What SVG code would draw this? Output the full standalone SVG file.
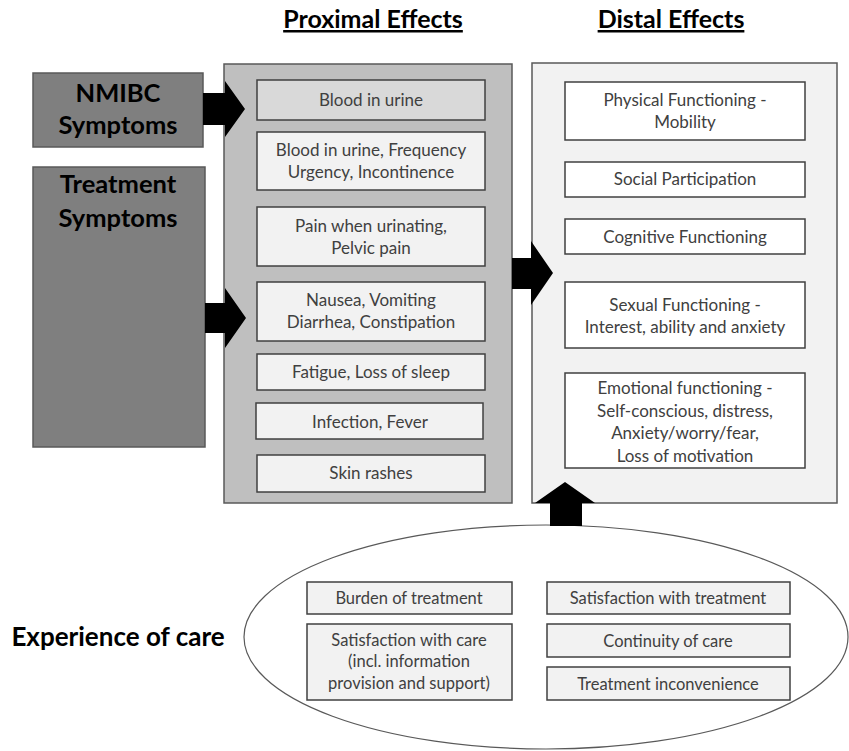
<svg xmlns="http://www.w3.org/2000/svg" width="849" height="751" viewBox="0 0 849 751">
<style>
text{font-family:Lato,"Open Sans","Liberation Sans",sans-serif;text-anchor:middle;}
.hd{font-size:25px;font-weight:bold;fill:#000;text-decoration:underline;}
.src{font-size:25.5px;font-weight:bold;fill:#000;}
.t{font-size:17px;fill:#404040;}
.e{font-size:16.5px;fill:#404040;}
.srcbox{fill:#7f7f7f;stroke:#595959;stroke-width:1.5;}
.prox{fill:#bfbfbf;stroke:#595959;stroke-width:1.5;}
.dist{fill:#f2f2f2;stroke:#595959;stroke-width:1.5;}
.pb{fill:#f2f2f2;stroke:#404040;stroke-width:1.5;}
.db{fill:#ffffff;stroke:#404040;stroke-width:1.5;}
.arr{fill:#000;}
</style>
<rect width="849" height="751" fill="#fff"/>
<g id="headings">
<text class="hd" x="373" y="28">Proximal Effects</text>
<text class="hd" x="671" y="28">Distal Effects</text>
</g>
<g id="nmibc">
<rect class="srcbox" x="33" y="73" width="170" height="74"/>
<text class="src" x="118" y="102">NMIBC</text>
<text class="src" x="118" y="134">Symptoms</text>
</g>
<g id="treatment">
<rect class="srcbox" x="33" y="167" width="172" height="280"/>
<text class="src" x="118" y="193">Treatment</text>
<text class="src" x="118" y="227">Symptoms</text>
</g>
<g id="proximal">
<rect class="prox" x="224" y="64" width="288" height="439"/>
</g>
<g id="p1"><rect class="pb" x="257" y="80" width="228" height="40" style="fill:#d9d9d9"/><text class="t" x="371" y="106">Blood in urine</text></g>
<g id="p2"><rect class="pb" x="257" y="132" width="228" height="58"/><text class="t" x="371" y="156">Blood in urine, Frequency</text><text class="t" x="371" y="178">Urgency, Incontinence</text></g>
<g id="p3"><rect class="pb" x="257" y="207" width="228" height="59"/><text class="t" x="371" y="232">Pain when urinating,</text><text class="t" x="371" y="254">Pelvic pain</text></g>
<g id="p4"><rect class="pb" x="257" y="282" width="228" height="59"/><text class="t" x="371" y="306">Nausea, Vomiting</text><text class="t" x="371" y="328">Diarrhea, Constipation</text></g>
<g id="p5"><rect class="pb" x="257" y="354" width="228" height="36"/><text class="t" x="371" y="378">Fatigue, Loss of sleep</text></g>
<g id="p6"><rect class="pb" x="256" y="403" width="227" height="36"/><text class="t" x="370" y="428">Infection, Fever</text></g>
<g id="p7"><rect class="pb" x="257" y="455" width="228" height="37"/><text class="t" x="371" y="479">Skin rashes</text></g>
<g id="distal">
<rect class="dist" x="532" y="63" width="305" height="440"/>
</g>
<g id="d1"><rect class="db" x="565" y="82" width="240" height="58"/><text class="t" x="685" y="106">Physical Functioning -</text><text class="t" x="685" y="128">Mobility</text></g>
<g id="d2"><rect class="db" x="565" y="162" width="240" height="35"/><text class="t" x="685" y="185">Social Participation</text></g>
<g id="d3"><rect class="db" x="565" y="219" width="240" height="35"/><text class="t" x="685" y="243">Cognitive Functioning</text></g>
<g id="d4"><rect class="db" x="565" y="282" width="240" height="66"/><text class="t" x="685" y="311">Sexual Functioning -</text><text class="t" x="685" y="333">Interest, ability and anxiety</text></g>
<g id="d5"><rect class="db" x="565" y="373" width="240" height="95"/><text class="t" x="685" y="394">Emotional functioning -</text><text class="t" x="685" y="417">Self-conscious, distress,</text><text class="t" x="685" y="439">Anxiety/worry/fear,</text><text class="t" x="685" y="462">Loss of motivation</text></g>
<g id="experience">
<ellipse cx="546" cy="637" rx="302" ry="112" fill="#fff" stroke="#595959" stroke-width="1.2"/>
<text class="src" x="118" y="646" style="font-size:26px">Experience of care</text>
</g>
<g id="e1"><rect class="pb" x="307" y="582" width="205" height="32"/><text class="e" x="409" y="604">Burden of treatment</text></g>
<g id="e2"><rect class="pb" x="307" y="624" width="205" height="76"/><text class="e" x="409" y="646">Satisfaction with care</text><text class="e" x="409" y="667">(incl. information</text><text class="e" x="409" y="689">provision and support)</text></g>
<g id="e3"><rect class="pb" x="547" y="582" width="243" height="32"/><text class="e" x="668" y="604">Satisfaction with treatment</text></g>
<g id="e4"><rect class="pb" x="547" y="624" width="243" height="33"/><text class="e" x="668" y="647">Continuity of care</text></g>
<g id="e5"><rect class="pb" x="547" y="667" width="243" height="33"/><text class="e" x="668" y="690">Treatment inconvenience</text></g>
<g id="connectors">
<polygon class="arr" points="203,93 225,93 225,81 245,109 225,137 225,125 203,125"/>
<polygon class="arr" points="205,303 225,303 225,288 246,318 225,348 225,333 205,333"/>
<polygon class="arr" points="512,258 531,258 531,241 553,273 531,305 531,289 512,289"/>
<polygon class="arr" points="550,526 550,503 535,503 565,482 595,503 582,503 582,526"/>
</g>
</svg>
